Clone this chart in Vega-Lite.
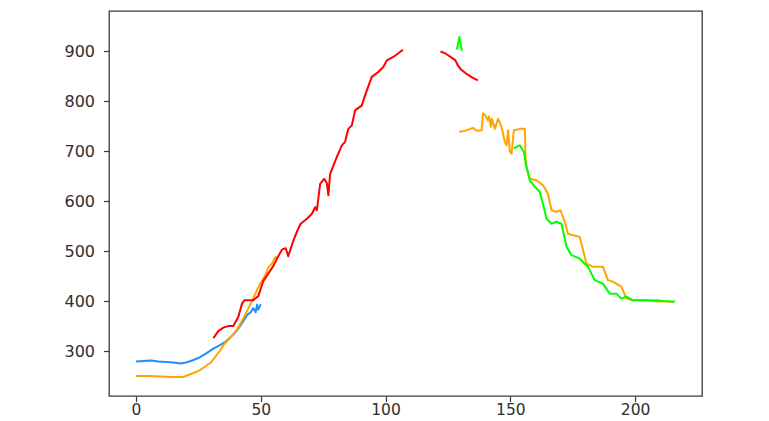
{
  "$schema": "https://vega.github.io/schema/vega-lite/v6.json",
  "width": 593,
  "height": 385,
  "autosize": {"type": "none"},
  "padding": {"left": 109, "top": 11, "right": 67, "bottom": 25},
  "background": "white",
  "config": {
    "view": {"stroke": "#3a3a3a", "strokeWidth": 1.3},
    "axis": {
      "domain": false,
      "grid": false,
      "labelFont": "DejaVu Sans",
      "labelFontSize": 16,
      "labelColor": "#2e2e2e",
      "tickColor": "#3a3a3a",
      "tickSize": 5.5,
      "tickWidth": 1.2,
      "title": null
    },
    "axisX": {"labelPadding": 1, "labelFontSize": 15.5},
    "axisY": {"labelPadding": 9}
  },
  "data": {
    "values": [
      {"series": "blue", "seg": "b1", "x": 0, "y": 279},
      {"series": "blue", "seg": "b1", "x": 3, "y": 280},
      {"series": "blue", "seg": "b1", "x": 6, "y": 281},
      {"series": "blue", "seg": "b1", "x": 9, "y": 279},
      {"series": "blue", "seg": "b1", "x": 12, "y": 278},
      {"series": "blue", "seg": "b1", "x": 15, "y": 277},
      {"series": "blue", "seg": "b1", "x": 18, "y": 275},
      {"series": "blue", "seg": "b1", "x": 20, "y": 277},
      {"series": "blue", "seg": "b1", "x": 22, "y": 280},
      {"series": "blue", "seg": "b1", "x": 25, "y": 286},
      {"series": "blue", "seg": "b1", "x": 28, "y": 295},
      {"series": "blue", "seg": "b1", "x": 31, "y": 305},
      {"series": "blue", "seg": "b1", "x": 34, "y": 313},
      {"series": "blue", "seg": "b1", "x": 36, "y": 319},
      {"series": "blue", "seg": "b1", "x": 39, "y": 333},
      {"series": "blue", "seg": "b1", "x": 41, "y": 345},
      {"series": "blue", "seg": "b1", "x": 43, "y": 360},
      {"series": "blue", "seg": "b1", "x": 44.5, "y": 372},
      {"series": "blue", "seg": "b1", "x": 46, "y": 378},
      {"series": "blue", "seg": "b1", "x": 47, "y": 386},
      {"series": "blue", "seg": "b1", "x": 48, "y": 378},
      {"series": "blue", "seg": "b1", "x": 48.5, "y": 393},
      {"series": "blue", "seg": "b1", "x": 49, "y": 383},
      {"series": "blue", "seg": "b1", "x": 50, "y": 394},

      {"series": "orange", "seg": "o1", "x": 0, "y": 250},
      {"series": "orange", "seg": "o1", "x": 5, "y": 250},
      {"series": "orange", "seg": "o1", "x": 10, "y": 249},
      {"series": "orange", "seg": "o1", "x": 15, "y": 248},
      {"series": "orange", "seg": "o1", "x": 19, "y": 248},
      {"series": "orange", "seg": "o1", "x": 21, "y": 252},
      {"series": "orange", "seg": "o1", "x": 24, "y": 258},
      {"series": "orange", "seg": "o1", "x": 26, "y": 263},
      {"series": "orange", "seg": "o1", "x": 28, "y": 270},
      {"series": "orange", "seg": "o1", "x": 30, "y": 277},
      {"series": "orange", "seg": "o1", "x": 32, "y": 290},
      {"series": "orange", "seg": "o1", "x": 34, "y": 303},
      {"series": "orange", "seg": "o1", "x": 35, "y": 312},
      {"series": "orange", "seg": "o1", "x": 37, "y": 322},
      {"series": "orange", "seg": "o1", "x": 39, "y": 334},
      {"series": "orange", "seg": "o1", "x": 41, "y": 347},
      {"series": "orange", "seg": "o1", "x": 43, "y": 365},
      {"series": "orange", "seg": "o1", "x": 45, "y": 385},
      {"series": "orange", "seg": "o1", "x": 47, "y": 406},
      {"series": "orange", "seg": "o1", "x": 49, "y": 428},
      {"series": "orange", "seg": "o1", "x": 51.8, "y": 452},
      {"series": "orange", "seg": "o1", "x": 53.1, "y": 468},
      {"series": "orange", "seg": "o1", "x": 54.5, "y": 475},
      {"series": "orange", "seg": "o1", "x": 55.8, "y": 488},
      {"series": "orange", "seg": "o1", "x": 56.7, "y": 488},

      {"series": "orange", "seg": "o2", "x": 129.5, "y": 739},
      {"series": "orange", "seg": "o2", "x": 131, "y": 740},
      {"series": "orange", "seg": "o2", "x": 133, "y": 743},
      {"series": "orange", "seg": "o2", "x": 135, "y": 747},
      {"series": "orange", "seg": "o2", "x": 136.5, "y": 741},
      {"series": "orange", "seg": "o2", "x": 138.5, "y": 742},
      {"series": "orange", "seg": "o2", "x": 139, "y": 776},
      {"series": "orange", "seg": "o2", "x": 140, "y": 772},
      {"series": "orange", "seg": "o2", "x": 141, "y": 762},
      {"series": "orange", "seg": "o2", "x": 141.5, "y": 770},
      {"series": "orange", "seg": "o2", "x": 142.2, "y": 749},
      {"series": "orange", "seg": "o2", "x": 142.6, "y": 765},
      {"series": "orange", "seg": "o2", "x": 143.8, "y": 745},
      {"series": "orange", "seg": "o2", "x": 145.1, "y": 765},
      {"series": "orange", "seg": "o2", "x": 146.5, "y": 749},
      {"series": "orange", "seg": "o2", "x": 147.8, "y": 719},
      {"series": "orange", "seg": "o2", "x": 148.5, "y": 712},
      {"series": "orange", "seg": "o2", "x": 149.1, "y": 742},
      {"series": "orange", "seg": "o2", "x": 149.8, "y": 700},
      {"series": "orange", "seg": "o2", "x": 150.5, "y": 695},
      {"series": "orange", "seg": "o2", "x": 151.4, "y": 742},
      {"series": "orange", "seg": "o2", "x": 153.8, "y": 745},
      {"series": "orange", "seg": "o2", "x": 155.8, "y": 745},
      {"series": "orange", "seg": "o2", "x": 156.2, "y": 672},
      {"series": "orange", "seg": "o2", "x": 157.8, "y": 645},
      {"series": "orange", "seg": "o2", "x": 160.5, "y": 642},
      {"series": "orange", "seg": "o2", "x": 163.1, "y": 632},
      {"series": "orange", "seg": "o2", "x": 165.1, "y": 615},
      {"series": "orange", "seg": "o2", "x": 166.5, "y": 582},
      {"series": "orange", "seg": "o2", "x": 168.5, "y": 579},
      {"series": "orange", "seg": "o2", "x": 170.1, "y": 582},
      {"series": "orange", "seg": "o2", "x": 171.8, "y": 559},
      {"series": "orange", "seg": "o2", "x": 173.1, "y": 535},
      {"series": "orange", "seg": "o2", "x": 175.1, "y": 532},
      {"series": "orange", "seg": "o2", "x": 177.8, "y": 529},
      {"series": "orange", "seg": "o2", "x": 180.5, "y": 475},
      {"series": "orange", "seg": "o2", "x": 183.1, "y": 469},
      {"series": "orange", "seg": "o2", "x": 187.1, "y": 469},
      {"series": "orange", "seg": "o2", "x": 189.1, "y": 442},
      {"series": "orange", "seg": "o2", "x": 191.1, "y": 439},
      {"series": "orange", "seg": "o2", "x": 194.5, "y": 429},
      {"series": "orange", "seg": "o2", "x": 196.5, "y": 405},
      {"series": "orange", "seg": "o2", "x": 198.5, "y": 402},
      {"series": "orange", "seg": "o2", "x": 204.5, "y": 402},
      {"series": "orange", "seg": "o2", "x": 208.5, "y": 399},
      {"series": "orange", "seg": "o2", "x": 215.1, "y": 399},

      {"series": "red", "seg": "r1", "x": 31, "y": 326},
      {"series": "red", "seg": "r1", "x": 33, "y": 340},
      {"series": "red", "seg": "r1", "x": 35, "y": 347},
      {"series": "red", "seg": "r1", "x": 37, "y": 350},
      {"series": "red", "seg": "r1", "x": 39, "y": 350},
      {"series": "red", "seg": "r1", "x": 41, "y": 368},
      {"series": "red", "seg": "r1", "x": 42.5, "y": 395},
      {"series": "red", "seg": "r1", "x": 43.5, "y": 402},
      {"series": "red", "seg": "r1", "x": 47, "y": 402},
      {"series": "red", "seg": "r1", "x": 49, "y": 410},
      {"series": "red", "seg": "r1", "x": 51, "y": 440},
      {"series": "red", "seg": "r1", "x": 53, "y": 455},
      {"series": "red", "seg": "r1", "x": 55, "y": 470},
      {"series": "red", "seg": "r1", "x": 57, "y": 490},
      {"series": "red", "seg": "r1", "x": 58.5, "y": 503},
      {"series": "red", "seg": "r1", "x": 60, "y": 506},
      {"series": "red", "seg": "r1", "x": 61, "y": 490},
      {"series": "red", "seg": "r1", "x": 63, "y": 520},
      {"series": "red", "seg": "r1", "x": 65, "y": 545},
      {"series": "red", "seg": "r1", "x": 66, "y": 555},
      {"series": "red", "seg": "r1", "x": 68.5, "y": 565},
      {"series": "red", "seg": "r1", "x": 70.5, "y": 575},
      {"series": "red", "seg": "r1", "x": 71.8, "y": 588},
      {"series": "red", "seg": "r1", "x": 72.5, "y": 582},
      {"series": "red", "seg": "r1", "x": 73.8, "y": 635},
      {"series": "red", "seg": "r1", "x": 75.4, "y": 645},
      {"series": "red", "seg": "r1", "x": 76.5, "y": 636},
      {"series": "red", "seg": "r1", "x": 77.1, "y": 612},
      {"series": "red", "seg": "r1", "x": 77.8, "y": 655},
      {"series": "red", "seg": "r1", "x": 80.5, "y": 689},
      {"series": "red", "seg": "r1", "x": 82.5, "y": 712},
      {"series": "red", "seg": "r1", "x": 83.8, "y": 719},
      {"series": "red", "seg": "r1", "x": 85.1, "y": 745},
      {"series": "red", "seg": "r1", "x": 86.5, "y": 752},
      {"series": "red", "seg": "r1", "x": 87.8, "y": 782},
      {"series": "red", "seg": "r1", "x": 90.5, "y": 792},
      {"series": "red", "seg": "r1", "x": 92.5, "y": 822},
      {"series": "red", "seg": "r1", "x": 94.5, "y": 849},
      {"series": "red", "seg": "r1", "x": 97.1, "y": 859},
      {"series": "red", "seg": "r1", "x": 99.1, "y": 869},
      {"series": "red", "seg": "r1", "x": 100.5, "y": 882},
      {"series": "red", "seg": "r1", "x": 103.1, "y": 889},
      {"series": "red", "seg": "r1", "x": 105.8, "y": 899},
      {"series": "red", "seg": "r1", "x": 107, "y": 903},

      {"series": "red", "seg": "r2", "x": 122, "y": 900},
      {"series": "red", "seg": "r2", "x": 124, "y": 896},
      {"series": "red", "seg": "r2", "x": 126, "y": 889},
      {"series": "red", "seg": "r2", "x": 128, "y": 882},
      {"series": "red", "seg": "r2", "x": 129, "y": 872},
      {"series": "red", "seg": "r2", "x": 130, "y": 865},
      {"series": "red", "seg": "r2", "x": 132.5, "y": 855},
      {"series": "red", "seg": "r2", "x": 135, "y": 847},
      {"series": "red", "seg": "r2", "x": 137, "y": 842},

      {"series": "green", "seg": "g1", "x": 128.6, "y": 904},
      {"series": "green", "seg": "g1", "x": 129.6, "y": 929},
      {"series": "green", "seg": "g1", "x": 130.6, "y": 901},

      {"series": "green", "seg": "g2", "x": 151.4, "y": 706},
      {"series": "green", "seg": "g2", "x": 153.8, "y": 712},
      {"series": "green", "seg": "g2", "x": 155.4, "y": 699},
      {"series": "green", "seg": "g2", "x": 156.5, "y": 669},
      {"series": "green", "seg": "g2", "x": 157.8, "y": 642},
      {"series": "green", "seg": "g2", "x": 159.8, "y": 629},
      {"series": "green", "seg": "g2", "x": 161.8, "y": 619},
      {"series": "green", "seg": "g2", "x": 163.1, "y": 595},
      {"series": "green", "seg": "g2", "x": 164.5, "y": 565},
      {"series": "green", "seg": "g2", "x": 166.5, "y": 555},
      {"series": "green", "seg": "g2", "x": 168.5, "y": 559},
      {"series": "green", "seg": "g2", "x": 170.5, "y": 555},
      {"series": "green", "seg": "g2", "x": 172.5, "y": 509},
      {"series": "green", "seg": "g2", "x": 174.5, "y": 492},
      {"series": "green", "seg": "g2", "x": 177.8, "y": 485},
      {"series": "green", "seg": "g2", "x": 181.1, "y": 469},
      {"series": "green", "seg": "g2", "x": 183.8, "y": 442},
      {"series": "green", "seg": "g2", "x": 187.1, "y": 435},
      {"series": "green", "seg": "g2", "x": 189.8, "y": 415},
      {"series": "green", "seg": "g2", "x": 192.5, "y": 415},
      {"series": "green", "seg": "g2", "x": 194.5, "y": 405},
      {"series": "green", "seg": "g2", "x": 196.5, "y": 409},
      {"series": "green", "seg": "g2", "x": 199.1, "y": 402},
      {"series": "green", "seg": "g2", "x": 205, "y": 402},
      {"series": "green", "seg": "g2", "x": 210, "y": 401},
      {"series": "green", "seg": "g2", "x": 213, "y": 400},
      {"series": "green", "seg": "g2", "x": 215, "y": 398},
      {"series": "green", "seg": "g2", "x": 216, "y": 400}
    ]
  },
  "mark": {"type": "line", "strokeWidth": 2, "strokeJoin": "round", "strokeCap": "butt"},
  "encoding": {
    "x": {
      "field": "x",
      "type": "quantitative",
      "scale": {"domain": [-10.8, 226.8], "nice": false, "zero": false},
      "axis": {"values": [0, 50, 100, 150, 200]}
    },
    "y": {
      "field": "y",
      "type": "quantitative",
      "scale": {"domain": [210, 981], "nice": false, "zero": false},
      "axis": {"values": [300, 400, 500, 600, 700, 800, 900]}
    },
    "color": {
      "field": "series",
      "type": "nominal",
      "scale": {
        "domain": ["blue", "orange", "red", "green"],
        "range": ["#1e90ff", "#ffa500", "#ff0000", "#00ff00"]
      },
      "legend": null
    },
    "detail": {"field": "seg"}
  }
}
